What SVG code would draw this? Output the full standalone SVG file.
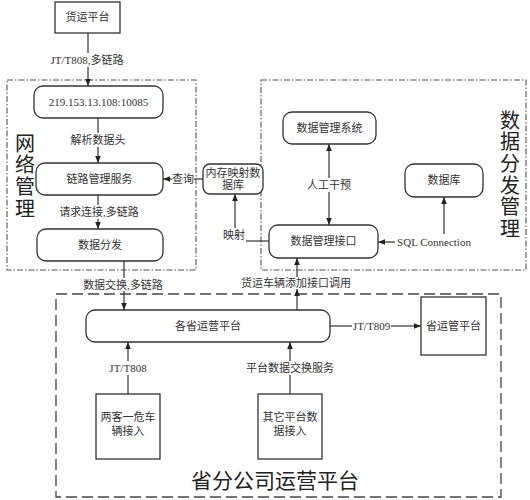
<svg xmlns="http://www.w3.org/2000/svg" width="530" height="500" viewBox="0 0 530 500">
<defs>
<marker id="arr" viewBox="0 0 10 10" refX="10" refY="5" markerWidth="7" markerHeight="7" orient="auto-start-reverse" markerUnits="userSpaceOnUse">
<path d="M0,1 L10,5 L0,9 z" fill="#222"/>
</marker>
<style>
.box{fill:#fff;stroke:#333;stroke-width:1.3}
.dd{fill:none;stroke:#555;stroke-width:1.1;stroke-dasharray:6 2 1.5 2}
.ld{fill:none;stroke:#444;stroke-width:1.3;stroke-dasharray:11 5}
.t{font-family:"Liberation Serif","Noto Sans CJK SC",serif;font-size:11px;fill:#333;text-anchor:middle}
.big{font-family:"Noto Sans CJK SC",sans-serif;font-size:21px;fill:#222;text-anchor:middle}
.vert{font-family:"Noto Sans CJK SC",sans-serif;font-size:20px;fill:#222;writing-mode:vertical-rl;text-orientation:upright;letter-spacing:1.7px}
.ln{fill:none;stroke:#333;stroke-width:1.2}
.a{marker-end:url(#arr)}
</style>
</defs>
<rect width="530" height="500" fill="#fff"/>

<g id="region-network">
<rect class="dd" x="7" y="80" width="189" height="190"/>
<text class="vert" x="25" y="133">网络管理</text>
</g>
<g id="region-data">
<rect class="dd" x="261" y="80" width="265" height="190"/>
<text class="vert" x="510" y="110">数据分发管理</text>
</g>
<g id="region-province">
<rect class="ld" x="56" y="294" width="445" height="203"/>
<text class="big" x="275" y="488">省分公司运营平台</text>
</g>

<g id="n-huoyun"><rect class="box" x="55" y="2" width="65" height="31"/><text class="t" x="87.5" y="21">货运平台</text></g>
<g id="n-ip"><rect class="box" x="34" y="86" width="129" height="32" rx="9"/><text class="t" x="98.5" y="106">219.153.13.108:10085</text></g>
<g id="n-link"><rect class="box" x="36" y="163" width="127" height="32" rx="9"/><text class="t" x="99.5" y="183">链路管理服务</text></g>
<g id="n-dist"><rect class="box" x="37" y="229" width="126" height="32" rx="9"/><text class="t" x="100" y="249">数据分发</text></g>
<g id="n-mem"><rect class="box" x="203" y="164" width="60" height="30" rx="7"/><text class="t" x="233" y="177">内存映射数</text><text class="t" x="233" y="189">据库</text></g>
<g id="n-dms"><rect class="box" x="283" y="112" width="93" height="32" rx="9"/><text class="t" x="329.5" y="132">数据管理系统</text></g>
<g id="n-db"><rect class="box" x="405" y="164" width="78" height="33" rx="9"/><text class="t" x="444" y="184">数据库</text></g>
<g id="n-dmi"><rect class="box" x="269" y="225" width="109" height="33" rx="9"/><text class="t" x="323.5" y="245">数据管理接口</text></g>
<g id="n-prov"><rect class="box" x="86" y="310" width="244" height="32" rx="9"/><text class="t" x="208" y="330">各省运营平台</text></g>
<g id="n-provmgmt"><rect class="box" x="421" y="297" width="65" height="58"/><text class="t" x="453.5" y="330">省运管平台</text></g>
<g id="n-lk"><rect class="box" x="96" y="394" width="64" height="65"/><text class="t" x="128" y="421">两客一危车</text><text class="t" x="128" y="435">辆接入</text></g>
<g id="n-other"><rect class="box" x="258" y="394" width="64" height="65"/><text class="t" x="290" y="421">其它平台数</text><text class="t" x="290" y="435">据接入</text></g>

<g id="connectors">
<line class="ln" x1="88" y1="33" x2="88" y2="53"/>
<line class="ln a" x1="88" y1="67" x2="88" y2="86"/>
<text class="t" x="87" y="64">JT/T808,多链路</text>

<line class="ln" x1="98" y1="118" x2="98" y2="133"/>
<line class="ln a" x1="98" y1="147" x2="98" y2="163"/>
<text class="t" x="98" y="144">解析数据头</text>

<line class="ln" x1="98" y1="195" x2="98" y2="205"/>
<line class="ln a" x1="98" y1="219" x2="98" y2="229"/>
<text class="t" x="99" y="216">请求连接,多链路</text>

<line class="ln" x1="124" y1="261" x2="124" y2="278"/>
<line class="ln a" x1="124" y1="291" x2="124" y2="310"/>
<text class="t" x="123" y="289">数据交换,多链路</text>

<line class="ln" x1="203" y1="179" x2="194" y2="179"/>
<line class="ln a" x1="172" y1="179" x2="163" y2="179"/>
<text class="t" x="183" y="183">查询</text>

<line class="ln" x1="269" y1="241" x2="246" y2="241"/>
<line class="ln a" x1="235" y1="228" x2="235" y2="194"/>
<text class="t" x="234" y="239">映射</text>

<line class="ln a" x1="329" y1="178" x2="329" y2="144"/>
<line class="ln a" x1="329" y1="192" x2="329" y2="225"/>
<text class="t" x="329" y="189">人工干预</text>

<line class="ln a" x1="444" y1="234" x2="444" y2="197"/>
<line class="ln a" x1="395" y1="242" x2="378" y2="242"/>
<text class="t" x="434" y="246">SQL Connection</text>

<line class="ln a" x1="297" y1="310" x2="297" y2="289"/>
<line class="ln a" x1="297" y1="277" x2="297" y2="258"/>
<text class="t" x="296" y="287">货运车辆添加接口调用</text>

<line class="ln" x1="330" y1="326" x2="352" y2="326"/>
<line class="ln a" x1="391" y1="326" x2="421" y2="326"/>
<text class="t" x="371.5" y="330">JT/T809</text>

<line class="ln" x1="128" y1="394" x2="128" y2="375"/>
<line class="ln a" x1="128" y1="361" x2="128" y2="342"/>
<text class="t" x="128" y="372">JT/T808</text>

<line class="ln" x1="290" y1="394" x2="290" y2="375"/>
<line class="ln a" x1="290" y1="361" x2="290" y2="342"/>
<text class="t" x="290" y="372">平台数据交换服务</text>
</g>
</svg>
